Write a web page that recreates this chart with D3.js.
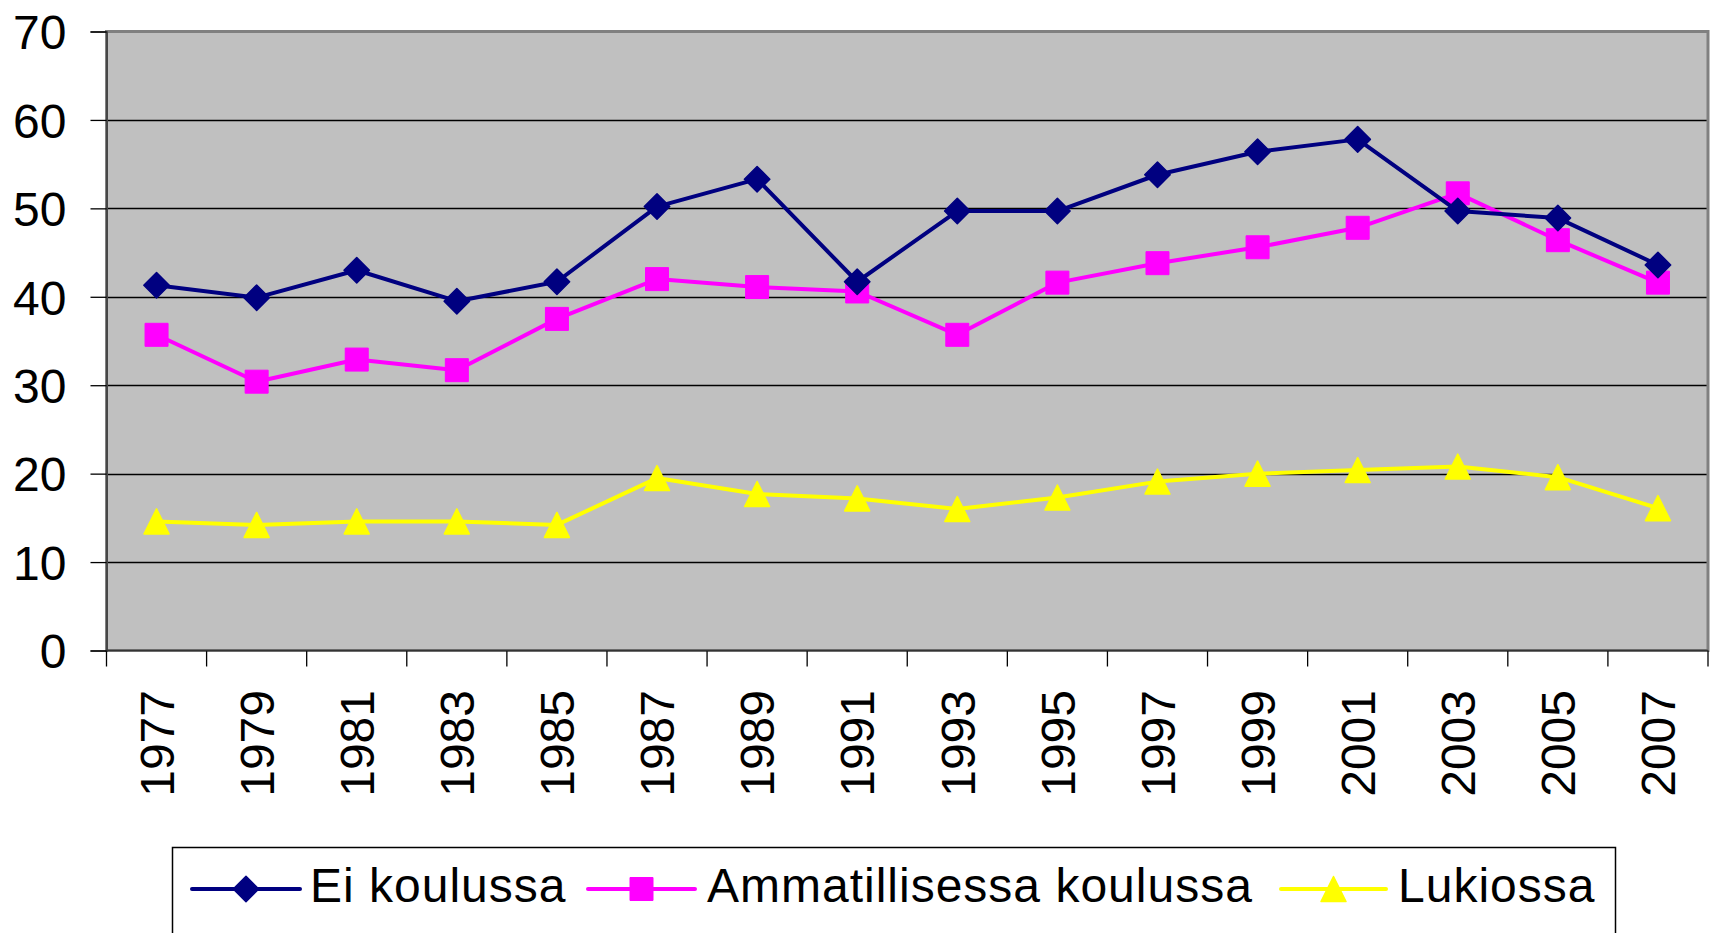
<!DOCTYPE html>
<html>
<head>
<meta charset="utf-8">
<script src="https://cdn.jsdelivr.net/npm/d3@7"></script>
<style>
  body { margin: 0; background: #fff; }
  svg { display: block; font-family: "Liberation Sans", Arial, sans-serif; }
</style>
</head>
<body>
<div id="chart"></div>
<script>
// data
const years = ["1977","1979","1981","1983","1985","1987","1989","1991","1993","1995","1997","1999","2001","2003","2005","2007"]
const eiKoulussa = [41.3, 39.9, 43.0, 39.5, 41.7, 50.2, 53.3, 41.7, 49.7, 49.7, 53.8, 56.4, 57.8, 49.7, 48.9, 43.6]
const ammatillisessa = [35.7, 30.4, 32.9, 31.7, 37.5, 42.0, 41.1, 40.6, 35.7, 41.6, 43.8, 45.6, 47.8, 51.7, 46.4, 41.6]
const lukiossa = [14.6, 14.2, 14.6, 14.6, 14.2, 19.5, 17.7, 17.2, 16.0, 17.3, 19.1, 20.0, 20.4, 20.8, 19.6, 16.1]
const yTicks = [0, 10, 20, 30, 40, 50, 60, 70]
const seriesNames = ["Ei koulussa", "Ammatillisessa koulussa", "Lukiossa"]

const width = 1714
const height = 933
const plot = { left: 106.5, right: 1708, top: 31.5, bottom: 650.5 }

const svg = d3
  .select("#chart")
  .append("svg")
  .attr("width", width)
  .attr("height", height)

const x = d3.scaleBand().domain(years).range([plot.left, plot.right])
const y = d3.scaleLinear().domain([0, 70]).range([plot.bottom, plot.top])

// plot background
svg.append("rect")
  .attr("x", plot.left)
  .attr("y", plot.top)
  .attr("width", plot.right - plot.left)
  .attr("height", plot.bottom - plot.top)
  .style("fill", "#c0c0c0")

// gridlines
svg.append("g")
  .selectAll("line")
  .data(yTicks.filter(d => d > 0 && d < 70))
  .enter()
  .append("line")
  .attr("x1", plot.left)
  .attr("x2", plot.right)
  .attr("y1", d => Math.round(y(d)) + 0.5)
  .attr("y2", d => Math.round(y(d)) + 0.5)
  .style("stroke", "#000")
  .style("stroke-width", 1.3)

// plot border
svg.append("rect")
  .attr("x", plot.left)
  .attr("y", plot.top)
  .attr("width", plot.right - plot.left)
  .attr("height", plot.bottom - plot.top)
  .style("fill", "none")
  .style("stroke", "#808080")
  .style("stroke-width", 3)

// y axis
const yAxis = svg.append("g")
  .attr("transform", "translate(" + plot.left + ",0)")
  .call(d3.axisLeft(y).tickValues(yTicks).tickSize(16).tickPadding(24))
yAxis.select(".domain").style("stroke", "#333").style("stroke-width", 1.5)
yAxis.selectAll(".tick line").style("stroke", "#000").style("stroke-width", 1.3)
yAxis.selectAll("text")
  .style("font-size", "48px")
  .style("fill", "#000")
  .attr("dy", "0.36em")

// x axis ticks at the band edges
const edges = years.map(d => x(d)).concat([plot.right])
svg.append("g")
  .selectAll("line")
  .data(edges)
  .enter()
  .append("line")
  .attr("x1", d => d)
  .attr("x2", d => d)
  .attr("y1", plot.bottom)
  .attr("y2", plot.bottom + 16)
  .style("stroke", "#000")
  .style("stroke-width", 1.3)

svg.append("line")
  .attr("x1", plot.left)
  .attr("x2", plot.right)
  .attr("y1", plot.bottom)
  .attr("y2", plot.bottom)
  .style("stroke", "#333")
  .style("stroke-width", 1.5)

// rotated year labels
svg.append("g")
  .selectAll("text")
  .data(years)
  .enter()
  .append("text")
  .attr("transform", d => "translate(" + (x(d) + x.bandwidth() / 2) + ",690) rotate(-90)")
  .attr("text-anchor", "end")
  .attr("dy", "0.36em")
  .style("font-size", "48px")
  .text(d => d)

// markers
const diamond = d3.symbol().type(d3.symbolSquare).size(18 * 18)
const square = d3.symbol().type(d3.symbolSquare).size(23 * 23)
const triangle = s => "M0," + (-s / 2) + "L" + (s / 2) + "," + (s / 2) + "L" + (-s / 2) + "," + (s / 2) + "Z"

const series = [
  { name: seriesNames[0], values: eiKoulussa, color: "#000080", shape: "diamond" },
  { name: seriesNames[1], values: ammatillisessa, color: "#ff00ff", shape: "square" },
  { name: seriesNames[2], values: lukiossa, color: "#ffff00", shape: "triangle" },
]

function drawMarker(g, shape, color) {
  if (shape === "diamond") {
    g.append("path").attr("d", diamond()).attr("transform", "rotate(45)")
      .style("fill", color).style("stroke", color).style("stroke-width", 1.5).style("stroke-linejoin", "round")
  } else if (shape === "square") {
    g.append("path").attr("d", square())
      .style("fill", color).style("stroke", color).style("stroke-width", 1).style("stroke-linejoin", "round")
  } else {
    g.append("path").attr("d", triangle(25))
      .style("fill", color).style("stroke", color).style("stroke-width", 1.5).style("stroke-linejoin", "round")
  }
}

const line = d3.line()
  .x((d, i) => x(years[i]) + x.bandwidth() / 2)
  .y(d => y(d))

// draw in reverse so the first series sits on top
series.slice().reverse().forEach(s => {
  svg.append("path")
    .datum(s.values)
    .attr("d", line)
    .style("fill", "none")
    .style("stroke", s.color)
    .style("stroke-width", 4)
    .style("stroke-linejoin", "round")

  s.values.forEach((v, i) => {
    const g = svg.append("g")
      .attr("transform", "translate(" + (x(years[i]) + x.bandwidth() / 2) + "," + y(v) + ")")
    drawMarker(g, s.shape, s.color)
  })
})

// legend
svg.append("rect")
  .attr("x", 172.5)
  .attr("y", 847.5)
  .attr("width", 1443)
  .attr("height", 120)
  .style("fill", "#fff")
  .style("stroke", "#000")
  .style("stroke-width", 1.5)

const legendItems = [
  { x1: 192, x2: 300, text: 310 },
  { x1: 588, x2: 695, text: 707 },
  { x1: 1281, x2: 1386, text: 1398 },
]
const ly = 889

series.forEach((s, i) => {
  const it = legendItems[i]
  svg.append("line")
    .attr("x1", it.x1).attr("x2", it.x2)
    .attr("y1", ly).attr("y2", ly)
    .style("stroke", s.color)
    .style("stroke-width", 4)
    .style("stroke-linecap", "round")
  const g = svg.append("g").attr("transform", "translate(" + (it.x1 + it.x2) / 2 + "," + ly + ")")
  drawMarker(g, s.shape, s.color)
  svg.append("text")
    .attr("x", it.text)
    .attr("y", 902)
    .style("font-size", "48px")
    .style("letter-spacing", "1px")
    .text(s.name)
})
</script>
</body>
</html>
